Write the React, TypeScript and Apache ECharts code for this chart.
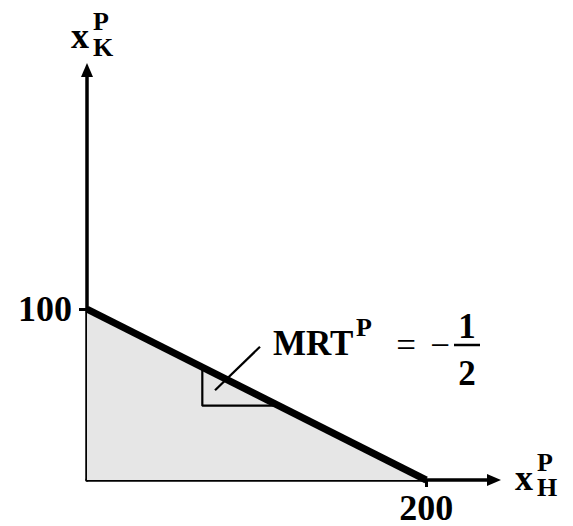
import React, { useEffect, useRef } from "react";
import * as echarts from "echarts";

// Production possibility frontier: x_H^P vs x_K^P
const frontierX = [0, 200];
const frontierY = [100, 0];
// slope triangle (data units)
const triangleX = [68, 68, 110];
const triangleY = [66, 43.5, 43.5];
// pointer from triangle to label
const pointerX = [75.5, 102];
const pointerY = [52.5, 78];
const xTicks = [200];
const yTicks = [100];
const axisMax = 240;

const FONT = "'Liberation Serif', 'Times New Roman', Times, serif";

export default function App() {
  const ref = useRef<HTMLDivElement>(null);
  useEffect(() => {
    if (!ref.current) return;
    const chart = echarts.init(ref.current, null, { renderer: "svg" });
    const pts = (xs: number[], ys: number[]) => xs.map((x, i) => [x, ys[i]]);
    const txt = (text: string, x: number, y: number, size: number, align: string, weight = "bold") => ({
      type: "text",
      z: 10,
      style: {
        text,
        x,
        y,
        fontFamily: FONT,
        fontSize: size,
        fontWeight: weight,
        lineHeight: Math.round(size * 0.75),
        fill: "#000",
        align,
        verticalAlign: "middle",
      },
    });
    chart.setOption({
      animation: false,
      backgroundColor: "#fff",
      grid: { left: 87, right: 79, top: 70, bottom: 46 },
      xAxis: {
        type: "value",
        min: 0,
        max: axisMax,
        splitLine: { show: false },
        axisLine: {
          show: true,
          onZero: false,
          symbol: ["none", "triangle"],
          symbolSize: [12, 14],
          lineStyle: { color: "#000", width: 3.5 },
        },
        axisTick: { show: true, customValues: xTicks, length: 7, lineStyle: { color: "#000", width: 3 } },
        axisLabel: {
          customValues: xTicks,
          margin: 14,
          lineHeight: 28,
          color: "#000",
          fontFamily: FONT,
          fontWeight: "bold",
          fontSize: 36,
        },
      },
      yAxis: {
        type: "value",
        min: 0,
        max: axisMax,
        splitLine: { show: false },
        axisLine: {
          show: true,
          onZero: false,
          symbol: ["none", "triangle"],
          symbolSize: [12, 14],
          lineStyle: { color: "#000", width: 3.5 },
        },
        axisTick: { show: true, customValues: yTicks, length: 8, lineStyle: { color: "#000", width: 3 } },
        axisLabel: {
          customValues: yTicks,
          margin: 15,
          color: "#000",
          fontFamily: FONT,
          fontWeight: "bold",
          fontSize: 36,
        },
      },
      series: [
        {
          type: "line",
          data: pts(frontierX, frontierY),
          symbol: "none",
          clip: false,
          z: 1,
          lineStyle: { width: 0, opacity: 0 },
          areaStyle: { color: "#e6e6e6", opacity: 1 },
        },
        {
          type: "line",
          data: pts(triangleX, triangleY),
          symbol: "none",
          clip: false,
          z: 2,
          lineStyle: { color: "#000", width: 2.2 },
        },
        {
          type: "line",
          data: pts(frontierX, frontierY),
          symbol: "none",
          clip: false,
          z: 3,
          lineStyle: { color: "#000", width: 7 },
        },
        {
          type: "line",
          data: pts(pointerX, pointerY),
          symbol: "none",
          clip: false,
          z: 4,
          lineStyle: { color: "#000", width: 2.2 },
        },
      ],
      graphic: [
        // y axis name x_K^P
        txt("x", 80, 36, 36, "center"),
        txt("P", 93, 21, 26, "left"),
        txt("K", 93, 47, 26, "left"),
        // x axis name x_H^P
        txt("x", 524, 478, 36, "center"),
        txt("P", 537, 462, 26, "left"),
        txt("H", 537, 487, 26, "left"),
        // MRT^P = -1/2
        txt("MRT", 273, 343, 35, "left"),
        txt("P", 356, 327, 26, "left"),
        txt("=", 406, 345, 35, "center", "normal"),
        txt("\u2212", 440, 345, 35, "center", "normal"),
        txt("1", 467, 326, 35, "center"),
        txt("2", 467, 373, 35, "center"),
        {
          type: "line",
          z: 10,
          shape: { x1: 454, y1: 345, x2: 480, y2: 345 },
          style: { stroke: "#000", lineWidth: 2.5 },
        },
      ],
    });
    return () => chart.dispose();
  }, []);
  return (
    <div
      ref={ref}
      style={{ position: "fixed", left: 0, top: 0, width: 573, height: 526 }}
    />
  );
}
